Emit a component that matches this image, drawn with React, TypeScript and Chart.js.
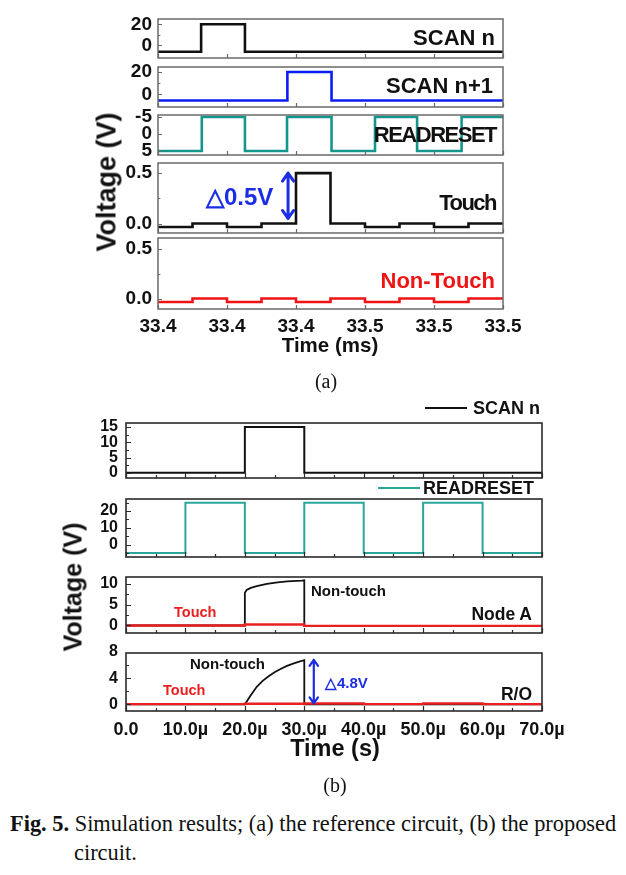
import React, { useEffect, useRef } from 'react';
import { Chart, registerables } from 'chart.js';
Chart.register(...registerables);

// ---------- (a) reference circuit, time in ms ----------
const aTimeTicks = [33.40, 33.42, 33.44, 33.46, 33.48, 33.50];
const aTimeLabels = ['33.4', '33.4', '33.4', '33.5', '33.5', '33.5'];

const aScanNT = [33.40, 33.4125, 33.4252, 33.50];
const aScanNV = [-6, 20, -6, -6];
const aScanN1T = [33.40, 33.4375, 33.4503, 33.50];
const aScanN1V = [-5.5, 20, -5.5, -5.5];
const aReadResetT = [33.40, 33.4127, 33.4252, 33.4374, 33.4503, 33.4629, 33.4751, 33.4880, 33.50];
const aReadResetV = [5, -5, 5, -5, 5, -5, 5, -5, -5];
const aTouchT = [33.40, 33.41, 33.42, 33.43, 33.44, 33.45, 33.46, 33.47, 33.48, 33.49, 33.50];
const aTouchV = [-0.035, 0, -0.035, 0, 0.5, 0, -0.035, 0, -0.035, 0, 0];
const aNonTouchT = [33.40, 33.41, 33.42, 33.43, 33.44, 33.45, 33.46, 33.47, 33.48, 33.49, 33.50];
const aNonTouchV = [-0.03, 0.005, -0.03, 0.005, -0.03, 0.005, -0.03, 0.005, -0.03, 0.005, 0.005];

const aScanTicks = [0, 20];
const aScanTickLabels = ['0', '20'];
const aScanMinor = [10];
const aReadTicks = [-5, 0, 5];
const aReadTickLabels = ['-5', '0', '5'];
const aSmallTicks = [0, 0.5];
const aSmallTickLabels = ['0.0', '0.5'];
const aSmallMinor = [0.25];
const aArrow = { x: 33.4377, y1: 0.5, y2: 0.05 };

// ---------- (b) proposed circuit, time in µs ----------
const bTimeTicks = [0, 10, 20, 30, 40, 50, 60, 70];
const bTimeLabels = ['0.0', '10.0µ', '20.0µ', '30.0µ', '40.0µ', '50.0µ', '60.0µ', '70.0µ'];
const bTimeMinor = [5, 15, 25, 35, 45, 55, 65];

const bScanT = [0, 20, 30, 70];
const bScanV = [0, 15, 0, 0];
const bReadResetT = [0, 10, 20, 30, 40, 50, 60, 70];
const bReadResetV = [-5, 25, -5, 25, -5, 25, -5, -5];
const bNodeNonTouchT = [0, 20, 20, 20.3, 21, 22, 23.7, 25.5, 27.1, 29.6, 30, 30, 70];
const bNodeNonTouchV = [0, 0, 7.8, 8.5, 9.0, 9.4, 9.95, 10.3, 10.55, 10.75, 10.8, -0.1, -0.1];
const bNodeTouchT = [0, 20, 20, 30, 30, 70];
const bNodeTouchV = [0, 0, 0.25, 0.25, -0.1, -0.1];
const bRoNonTouchT = [0, 20, 20.5, 21, 22, 23, 24, 25, 26, 27, 28, 29, 30, 30, 70];
const bRoNonTouchV = [0, 0, 0.7, 1.4, 2.7, 3.6, 4.3, 4.9, 5.4, 5.85, 6.2, 6.5, 6.75, 0, 0];
const bRoTouchT = [0, 20, 30, 40, 50, 60, 70];
const bRoTouchV = [0.05, 0.1, 0.15, 0.05, 0.15, 0.05, 0.05];

const bScanTicks = [0, 5, 10, 15];
const bScanMinor = [2.5, 7.5, 12.5];
const bReadTicks = [0, 10, 20];
const bReadMinor = [-5, 5, 15, 25];
const bNodeTicks = [0, 5, 10];
const bNodeMinor = [2.5, 7.5];
const bRoTicks = [0, 4, 8];
const bRoMinor = [2, 6];
const bArrow = { x: 31.6, y1: 6.8, y2: 0.15 };

// ---------- colours ----------
const BLACK = '#111111';
const BLUE_A = '#0a1ef0';
const TEAL_A = '#14968c';
const TEAL_B = '#2aa69a';
const RED_A = '#f01414';
const RED_B = '#ea2020';
const ARROW_BLUE = '#1b2ee6';

type Series = { t: number[]; v: number[]; color: string; width: number; stepped: boolean };
type Arrow = { x: number; y1: number; y2: number; color: string; width: number; head: number };
type PanelCfg = {
  frame: [number, number, number, number];
  x: [number, number];
  y: [number, number];
  reverse?: boolean;
  xTicks: number[];
  xLabels: string[];
  showX: boolean;
  xMinor: number[];
  yTicks: number[];
  yLabels: string[];
  yMinor: number[];
  series: Series[]; // first series is drawn on top
  yFont: number;
  xFont: number;
  yPad: number;
  xPad: number;
  frameColor: string;
  frameWidth: number;
  tickLen: number;
  arrow?: Arrow;
};

const PAD_L = 60;
const PAD_T = 14;
const PAD_R = 40;
const PAD_B = 36;
const SANS = '"Liberation Sans", Arial, sans-serif';
const SERIF = '"Liberation Serif", "Times New Roman", serif';

function zeroPad(ax: any) {
  ax.paddingTop = 0;
  ax.paddingBottom = 0;
  ax.paddingLeft = 0;
  ax.paddingRight = 0;
}

function Panel({ cfg }: { cfg: PanelCfg }) {
  const ref = useRef<HTMLCanvasElement | null>(null);
  const [l, t, r, b] = cfg.frame;
  const w = r - l + PAD_L + PAD_R;
  const h = b - t + PAD_T + PAD_B;
  useEffect(() => {
    if (!ref.current) return;
    const framePlugin = {
      id: 'frameTicks',
      afterDatasetsDraw(chart: any) {
        const { ctx, chartArea: a, scales } = chart;
        const xs = scales.x;
        const ys = scales.y;
        ctx.save();
        ctx.strokeStyle = cfg.frameColor;
        ctx.lineWidth = cfg.frameWidth;
        ctx.strokeRect(a.left, a.top, a.right - a.left, a.bottom - a.top);
        ctx.lineWidth = 1.2;
        const tl = cfg.tickLen;
        ctx.beginPath();
        for (const v of cfg.xTicks) {
          const px = Math.round(xs.getPixelForValue(v)) + 0.5;
          ctx.moveTo(px, a.bottom);
          ctx.lineTo(px, a.bottom - tl);
        }
        for (const v of cfg.xMinor) {
          const px = Math.round(xs.getPixelForValue(v)) + 0.5;
          ctx.moveTo(px, a.bottom);
          ctx.lineTo(px, a.bottom - tl * 0.6);
        }
        for (const v of cfg.yTicks) {
          const py = Math.round(ys.getPixelForValue(v)) + 0.5;
          if (py < a.top + 1 || py > a.bottom - 1) continue;
          ctx.moveTo(a.left, py);
          ctx.lineTo(a.left + tl, py);
        }
        for (const v of cfg.yMinor) {
          const py = Math.round(ys.getPixelForValue(v)) + 0.5;
          if (py < a.top + 1 || py > a.bottom - 1) continue;
          ctx.moveTo(a.left, py);
          ctx.lineTo(a.left + tl * 0.6, py);
        }
        ctx.stroke();
        if (cfg.arrow) {
          const ar = cfg.arrow;
          const px = xs.getPixelForValue(ar.x);
          const p1 = ys.getPixelForValue(ar.y1);
          const p2 = ys.getPixelForValue(ar.y2);
          ctx.strokeStyle = ar.color;
          ctx.lineWidth = ar.width;
          ctx.lineCap = 'round';
          ctx.lineJoin = 'round';
          ctx.beginPath();
          ctx.moveTo(px, p1);
          ctx.lineTo(px, p2);
          const hd = ar.head;
          ctx.moveTo(px - hd * 0.7, p1 + hd);
          ctx.lineTo(px, p1);
          ctx.lineTo(px + hd * 0.7, p1 + hd);
          ctx.moveTo(px - hd * 0.7, p2 - hd);
          ctx.lineTo(px, p2);
          ctx.lineTo(px + hd * 0.7, p2 - hd);
          ctx.stroke();
        }
        ctx.restore();
      },
    };
    const chart = new Chart(ref.current, {
      type: 'line',
      data: {
        datasets: cfg.series.map((s) => ({
          data: s.t.map((tt, i) => ({ x: tt, y: s.v[i] })),
          borderColor: s.color,
          backgroundColor: s.color,
          borderWidth: s.width,
          pointRadius: 0,
          stepped: s.stepped ? 'before' : false,
          tension: 0,
          fill: false,
        })),
      } as any,
      options: {
        responsive: false,
        animation: false,
        devicePixelRatio: 1,
        events: [],
        layout: { autoPadding: false, padding: { left: 0, top: PAD_T, right: PAD_R, bottom: 0 } },
        plugins: { legend: { display: false }, tooltip: { enabled: false } },
        scales: {
          x: {
            type: 'linear',
            min: cfg.x[0],
            max: cfg.x[1],
            grid: { display: false, drawTicks: false, tickLength: 0 },
            border: { display: false },
            afterBuildTicks: (ax: any) => {
              ax.ticks = cfg.xTicks.map((v) => ({ value: v }));
            },
            afterFit: (ax: any) => {
              ax.height = PAD_B;
              zeroPad(ax);
            },
            ticks: {
              display: cfg.showX,
              autoSkip: false,
              maxRotation: 0,
              minRotation: 0,
              padding: cfg.xPad,
              color: '#111',
              font: { family: SANS, size: cfg.xFont, weight: 'bold' },
              callback: (_v: any, i: number) => cfg.xLabels[i],
            },
          },
          y: {
            type: 'linear',
            min: cfg.y[0],
            max: cfg.y[1],
            reverse: !!cfg.reverse,
            grid: { display: false, drawTicks: false, tickLength: 0 },
            border: { display: false },
            afterBuildTicks: (ax: any) => {
              ax.ticks = cfg.yTicks.map((v) => ({ value: v }));
            },
            afterFit: (ax: any) => {
              ax.width = PAD_L;
              zeroPad(ax);
            },
            ticks: {
              autoSkip: false,
              padding: cfg.yPad,
              color: '#111',
              font: { family: SANS, size: cfg.yFont, weight: 'bold' },
              callback: (_v: any, i: number) => cfg.yLabels[i],
            },
          },
        },
      } as any,
      plugins: [framePlugin],
    });
    return () => chart.destroy();
  }, [cfg]);
  return (
    <canvas
      ref={ref}
      width={w}
      height={h}
      style={{ position: 'absolute', left: l - PAD_L, top: t - PAD_T, width: w, height: h }}
    />
  );
}

// ---------- panel configs ----------
const aBase = {
  x: [33.40, 33.50] as [number, number],
  xTicks: aTimeTicks,
  xLabels: aTimeLabels,
  xMinor: [] as number[],
  yFont: 19,
  xFont: 19,
  yPad: 6,
  xPad: 6,
  frameColor: '#6a6a6a',
  frameWidth: 1.5,
  tickLen: 4,
};
const aL = 158;
const aR = 503;

const panelsA: PanelCfg[] = [
  {
    ...aBase, frame: [aL, 19, aR, 58], y: [-12, 25], showX: false,
    yTicks: aScanTicks, yLabels: aScanTickLabels, yMinor: aScanMinor,
    series: [{ t: aScanNT, v: aScanNV, color: BLACK, width: 2.6, stepped: true }],
  },
  {
    ...aBase, frame: [aL, 67, aR, 107], y: [-11.4, 24.5], showX: false,
    yTicks: aScanTicks, yLabels: aScanTickLabels, yMinor: aScanMinor,
    series: [{ t: aScanN1T, v: aScanN1V, color: BLUE_A, width: 2.6, stepped: true }],
  },
  {
    ...aBase, frame: [aL, 115, aR, 155], y: [-5.6, 6.2], reverse: true, showX: false,
    yTicks: aReadTicks, yLabels: aReadTickLabels, yMinor: [],
    series: [{ t: aReadResetT, v: aReadResetV, color: TEAL_A, width: 2.6, stepped: true }],
  },
  {
    ...aBase, frame: [aL, 163, aR, 233], y: [-0.094, 0.6], showX: false,
    yTicks: aSmallTicks, yLabels: aSmallTickLabels, yMinor: aSmallMinor,
    series: [{ t: aTouchT, v: aTouchV, color: BLACK, width: 2.6, stepped: true }],
    arrow: { ...aArrow, color: ARROW_BLUE, width: 3, head: 8 },
  },
  {
    ...aBase, frame: [aL, 238, aR, 309], y: [-0.1, 0.61], showX: true,
    yTicks: aSmallTicks, yLabels: aSmallTickLabels, yMinor: aSmallMinor,
    series: [{ t: aNonTouchT, v: aNonTouchV, color: RED_A, width: 2.6, stepped: true }],
  },
];

const bBase = {
  x: [0, 70] as [number, number],
  xTicks: bTimeTicks,
  xLabels: bTimeLabels,
  xMinor: bTimeMinor,
  yFont: 16,
  xFont: 18,
  yPad: 8,
  xPad: 8,
  frameColor: '#2a2a2a',
  frameWidth: 1.6,
  tickLen: 5,
};
const bL = 126;
const bR = 542;

const panelsB: PanelCfg[] = [
  {
    ...bBase, frame: [bL, 423, bR, 478], y: [-1.7, 16.3], showX: false,
    yTicks: bScanTicks, yLabels: bScanTicks.map(String), yMinor: bScanMinor,
    series: [{ t: bScanT, v: bScanV, color: BLACK, width: 2, stepped: true }],
  },
  {
    ...bBase, frame: [bL, 499, bR, 557], y: [-7.4, 27.2], showX: false,
    yTicks: bReadTicks, yLabels: bReadTicks.map(String), yMinor: bReadMinor,
    series: [{ t: bReadResetT, v: bReadResetV, color: TEAL_B, width: 2, stepped: true }],
  },
  {
    ...bBase, frame: [bL, 577, bR, 633], y: [-1.8, 11.6], showX: false,
    yTicks: bNodeTicks, yLabels: bNodeTicks.map(String), yMinor: bNodeMinor,
    series: [
      { t: bNodeTouchT, v: bNodeTouchV, color: RED_B, width: 2.4, stepped: false },
      { t: bNodeNonTouchT, v: bNodeNonTouchV, color: BLACK, width: 1.8, stepped: false },
    ],
  },
  {
    ...bBase, frame: [bL, 653, bR, 711], y: [-1, 7.85], showX: true,
    yTicks: bRoTicks, yLabels: bRoTicks.map(String), yMinor: bRoMinor,
    series: [
      { t: bRoTouchT, v: bRoTouchV, color: RED_B, width: 2.4, stepped: true },
      { t: bRoNonTouchT, v: bRoNonTouchV, color: BLACK, width: 1.8, stepped: false },
    ],
    arrow: { ...bArrow, color: ARROW_BLUE, width: 2.2, head: 6 },
  },
];

// ---------- text helpers ----------
type TxtProps = {
  text: React.ReactNode;
  x: number;
  y: number;
  size: number;
  align?: 'left' | 'right' | 'center';
  color?: string;
  weight?: string | number;
  family?: string;
  ls?: number;
};
function Txt({ text, x, y, size, align = 'left', color = '#111', weight = 'normal', family = SANS, ls = 0 }: TxtProps) {
  const style: React.CSSProperties = {
    position: 'absolute',
    top: y,
    fontSize: size,
    lineHeight: 1,
    fontFamily: family,
    fontWeight: weight as any,
    color,
    whiteSpace: 'nowrap',
    letterSpacing: ls,
  };
  if (align === 'left') {
    style.left = x;
    style.transform = 'translateY(-50%)';
  } else if (align === 'right') {
    style.right = 626 - x;
    style.transform = 'translateY(-50%)';
  } else {
    style.left = x;
    style.transform = 'translate(-50%, -50%)';
  }
  return <div style={style}>{text}</div>;
}

function VTxt({ text, x, y, size }: { text: string; x: number; y: number; size: number }) {
  return (
    <div
      style={{
        position: 'absolute',
        left: x,
        top: y,
        fontSize: size,
        lineHeight: 1,
        fontFamily: SANS,
        fontWeight: 'bold',
        color: '#111',
        whiteSpace: 'nowrap',
        transform: 'translate(-50%, -50%) rotate(-90deg)',
      }}
    >
      {text}
    </div>
  );
}

function LegendLine({ x, y, w, color }: { x: number; y: number; w: number; color: string }) {
  return <div style={{ position: 'absolute', left: x, top: y - 1, width: w, height: 2, background: color }} />;
}

export default function App() {
  return (
    <div style={{ position: 'fixed', left: 0, top: 0, width: 626, height: 875, background: '#fff', overflow: 'hidden' }}>
      {panelsA.map((c, i) => (
        <Panel key={'a' + i} cfg={c} />
      ))}
      {panelsB.map((c, i) => (
        <Panel key={'b' + i} cfg={c} />
      ))}

      {/* (a) labels */}
      <Txt text="SCAN n" x={495} y={38} size={22} weight="bold" align="right" />
      <Txt text="SCAN n+1" x={493} y={86} size={22} weight="bold" align="right" />
      <Txt text="READRESET" x={496} y={135} size={22} weight="bold" align="right" ls={-1.5} />
      <Txt text="Touch" x={496} y={203} size={22} weight="bold" align="right" ls={-1.5} />
      <Txt text="Non-Touch" x={495} y={281} size={22} weight="bold" align="right" color={RED_A} />
      <Txt text="△0.5V" x={206} y={197} size={24} weight="bold" color={ARROW_BLUE} />
      <VTxt text="Voltage (V)" x={107} y={182} size={27} />
      <Txt text="Time (ms)" x={330} y={345} size={20.5} weight="bold" align="center" />
      <Txt text="(a)" x={326} y={381} size={20} family={SERIF} align="center" />

      {/* (b) labels */}
      <LegendLine x={425} y={408} w={42} color={BLACK} />
      <Txt text="SCAN n" x={473} y={408} size={18} weight="bold" />
      <LegendLine x={378} y={488} w={42} color={TEAL_B} />
      <Txt text="READRESET" x={423} y={488} size={18} weight="bold" />
      <Txt text="Non-touch" x={311} y={590} size={15} weight="bold" />
      <Txt text="Touch" x={174} y={612} size={14.5} weight="bold" color={RED_B} />
      <Txt text="Node A" x={532} y={615} size={17.5} weight="bold" align="right" />
      <Txt text="Non-touch" x={190} y={663} size={15} weight="bold" />
      <Txt text="Touch" x={163} y={690} size={14.5} weight="bold" color={RED_B} />
      <Txt text="R/O" x={532} y={695} size={17.5} weight="bold" align="right" />
      <Txt text="△4.8V" x={325} y={682} size={15} weight="bold" color={ARROW_BLUE} />
      <VTxt text="Voltage (V)" x={73} y={587} size={25} />
      <Txt text="Time (s)" x={335} y={749} size={23.5} weight="bold" align="center" />
      <Txt text="(b)" x={335} y={785} size={20} family={SERIF} align="center" />

      {/* caption */}
      <Txt
        text={
          <>
            <b>Fig. 5.</b> Simulation results; (a) the reference circuit, (b) the proposed
          </>
        }
        x={10}
        y={824}
        size={22.4}
        family={SERIF}
      />
      <Txt text="circuit." x={74} y={853} size={22.4} family={SERIF} />
    </div>
  );
}
